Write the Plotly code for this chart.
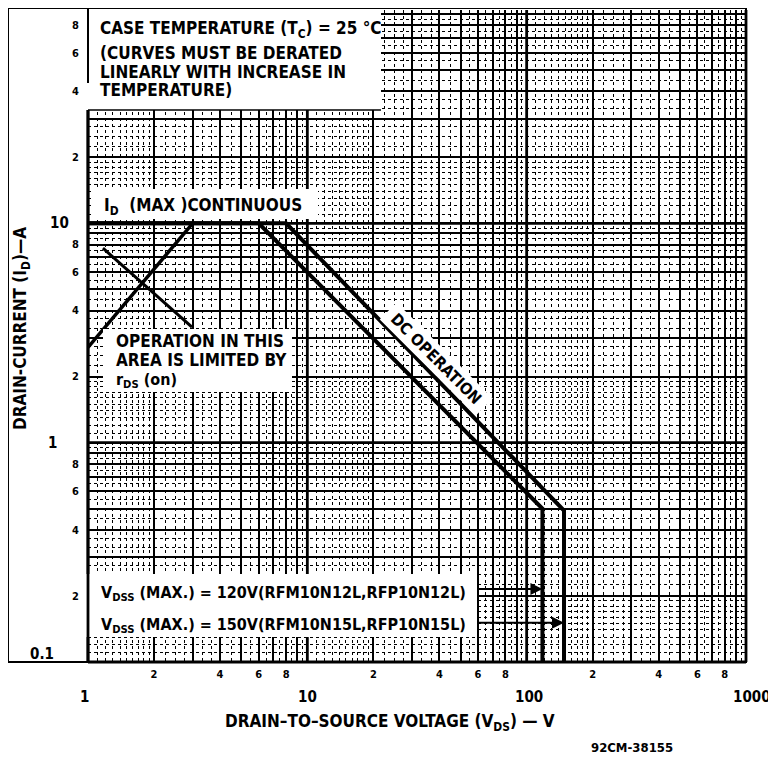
import plotly.graph_objects as go
import math

# ---------------- data ----------------
# RFM10N12L / RFP10N12L boundary (VDSS = 120 V)
vds_120 = [1.0, 6.0, 118.0, 118.0]
id_120 = [10.0, 10.0, 0.50, 0.10]
# RFM10N15L / RFP10N15L boundary (VDSS = 150 V)
vds_150 = [1.0, 8.0, 148.0, 148.0]
id_150 = [10.0, 10.0, 0.49, 0.10]
# rDS(on) limit line
vds_rds = [1.0, 3.0]
id_rds = [2.72, 10.0]
# leader line from the rDS(on) note
vds_leader = [1.17, 2.98]
id_leader = [7.7, 3.36]
# VDSS arrows (tip voltage, current level)
arrow_vds = [118.0, 148.0]
arrow_id = [0.215, 0.151]

x_small_digits = [2, 4, 6, 8]
x_decades = [1, 10, 100, 1000]
x_decade_labels = ["1", "10", "100", "1000"]
y_decades = [0.1, 1, 10]
y_decade_labels = ["0.1", "1", "10"]
dotted_steps = [1.1, 1.2, 1.3, 1.4, 1.5, 1.6, 1.7, 1.8, 1.9, 2.25, 2.5, 2.75,
                3.33, 3.67, 4.5, 5.5, 6.5, 7.5, 8.5, 9.5]

# ---------------- geometry ----------------
OFF = 8                      # page body margin of the browser
W, H = 776 - OFF, 759 - OFF
L, R, T, B = 88 - OFF, 30, 10 - OFF, 97
PW, PH = W - L - R, H - T - B
YMIN = -1.0
YMAX = YMIN + PH * 3.0 / PW

FONT = "DejaVu Sans Condensed, DejaVu Sans, sans-serif"


def px(X):
    return (X - OFF - L) / PW


def py(Y):
    return (T + PH - (Y - OFF)) / PH


def xr(v):
    return math.log10(v) / 3.0


def yr(v):
    return (math.log10(v) - YMIN) / (YMAX - YMIN)


fig = go.Figure()
line_style = dict(color="black", width=4)
fig.add_trace(go.Scatter(x=vds_120, y=id_120, mode="lines", line=line_style,
                         showlegend=False, hoverinfo="skip"))
fig.add_trace(go.Scatter(x=vds_150, y=id_150, mode="lines", line=line_style,
                         showlegend=False, hoverinfo="skip"))
fig.add_trace(go.Scatter(x=vds_rds, y=id_rds, mode="lines",
                         line=dict(color="black", width=3.5),
                         showlegend=False, hoverinfo="skip"))
fig.add_trace(go.Scatter(x=vds_leader, y=id_leader, mode="lines",
                         line=dict(color="black", width=3),
                         showlegend=False, hoverinfo="skip"))

# tick values: every 1..9 multiple
xt = [m * 10 ** d for d in range(0, 3) for m in range(1, 10)] + [1000]
xtt = [str(m) if m in x_small_digits else "" for d in range(0, 3) for m in range(1, 10)] + [""]
yt = [m * 10 ** d for d in range(-1, 2) for m in range(1, 10)]
ytt = [str(m) if m in x_small_digits else "" for d in range(-1, 2) for m in range(1, 10)]
x_minor = [s * 10 ** d for d in range(0, 3) for s in dotted_steps]
y_minor = [s * 10 ** d for d in range(-1, 2) for s in dotted_steps]

tickfont = dict(family=FONT, size=11, color="black", weight="bold")
fig.update_xaxes(type="log", range=[0, 3], tickmode="array", tickvals=xt, ticktext=xtt,
                 showgrid=True, gridcolor="black", gridwidth=1.7, zeroline=False,
                 showline=False, ticks="", ticklabelstandoff=4, tickfont=tickfont,
                 minor=dict(tickmode="array", tickvals=x_minor, showgrid=True,
                            gridcolor="black", gridwidth=1.2, griddash="dot", ticks=""))
fig.update_yaxes(type="log", range=[YMIN, YMAX], tickmode="array", tickvals=yt, ticktext=ytt,
                 showgrid=True, gridcolor="black", gridwidth=1.7, zeroline=False,
                 showline=False, ticks="", ticklabelstandoff=8, tickfont=tickfont,
                 minor=dict(tickmode="array", tickvals=y_minor, showgrid=True,
                            gridcolor="black", gridwidth=1.2, griddash="dot", ticks=""))

shapes = []
# heavy decade lines
for v in x_decades:
    shapes.append(dict(type="line", xref="paper", yref="paper", x0=xr(v), x1=xr(v), y0=0, y1=1,
                       line=dict(color="black", width=2.8), layer="above"))
for v in y_decades:
    shapes.append(dict(type="line", xref="paper", yref="paper", x0=0, x1=1, y0=yr(v), y1=yr(v),
                       line=dict(color="black", width=2.8), layer="above"))


def white_box(X0, Y0, X1, Y1):
    return dict(type="rect", xref="paper", yref="paper", x0=px(X0), x1=px(X1),
                y0=py(Y1), y1=py(Y0), fillcolor="white", line=dict(width=0), layer="above")


shapes.append(white_box(86, 9, 381, 110))     # temperature note area
shapes.append(white_box(92, 189, 318, 219))   # ID(max) label
shapes.append(white_box(103, 329, 292, 392))  # rDS(on) note
shapes.append(white_box(86, 574, 477, 637))   # VDSS note
# outer frame
shapes.append(dict(type="rect", xref="paper", yref="paper", x0=px(8), x1=1, y0=0, y1=py(8),
                   line=dict(color="black", width=2), fillcolor="rgba(0,0,0,0)", layer="above"))
shapes.append(dict(type="line", xref="paper", yref="paper", x0=0, x1=0, y0=py(83), y1=py(8),
                   line=dict(color="black", width=2), layer="above"))
shapes.append(dict(type="line", xref="paper", yref="paper", x0=0, x1=0, y0=0, y1=py(110),
                   line=dict(color="black", width=2.8), layer="above"))
shapes.append(dict(type="line", xref="paper", yref="paper", x0=0, x1=px(381), y0=py(110), y1=py(110),
                   line=dict(color="black", width=1.5), layer="above"))

annotations = []


def ann(text, X, Y, size, xanchor="left", yanchor="middle", angle=0, bg=None, weight="bold"):
    d = dict(text=text, xref="paper", yref="paper", x=px(X), y=py(Y), showarrow=False,
             xanchor=xanchor, yanchor=yanchor, textangle=angle,
             font=dict(family=FONT, size=size, color="black", weight=weight))
    if bg:
        d.update(bgcolor=bg, borderpad=2)
    return d


annotations += [
    ann("CASE TEMPERATURE (T<sub>C</sub>) = 25 °C", 98, 29, 17),
    ann("(CURVES MUST BE DERATED", 98, 53, 17),
    ann("LINEARLY WITH INCREASE IN", 98, 72, 17),
    ann("TEMPERATURE)", 98, 90, 17),
    ann("I<sub>D</sub>  (MAX )CONTINUOUS", 102, 206, 17),
    ann("OPERATION IN THIS", 114, 341, 17),
    ann("AREA IS LIMITED BY", 114, 360, 17),
    ann("r<sub>DS</sub> (on)", 114, 380, 16),
    ann("V<sub>DSS</sub> (MAX.) = 120V(RFM10N12L,RFP10N12L)", 99, 593, 16),
    ann("V<sub>DSS</sub> (MAX.) = 150V(RFM10N15L,RFP10N15L)", 99, 625, 16),
    ann(" DC OPERATION ", 437, 359, 16, xanchor="center", angle=45, bg="white"),
    ann("DRAIN-CURRENT (I<sub>D</sub>)—A", 22, 329, 17, xanchor="center", angle=-90),
    ann("DRAIN–TO–SOURCE VOLTAGE (V<sub>DS</sub>) — V", 390, 722, 17, xanchor="center"),
    ann("92CM-38155", 632, 748, 13, xanchor="center"),
]
# decade labels
for v, lab, X in zip(x_decades, x_decade_labels, [84, 308, 529, 752]):
    annotations.append(dict(text=lab, xref="x", yref="paper", x=math.log10(v), y=py(697),
                            xshift=X - OFF - (L + xr(v) * PW), showarrow=False, xanchor="center",
                            yanchor="middle",
                            font=dict(family=FONT, size=15, color="black", weight="bold")))
for v, lab, X in zip(y_decades, y_decade_labels, [42, 52, 59]):
    annotations.append(dict(text=lab, xref="paper", yref="y", x=px(X), y=math.log10(v),
                            yshift=(8 if v == 0.1 else 0), showarrow=False, xanchor="center",
                            yanchor="middle",
                            font=dict(family=FONT, size=15, color="black", weight="bold")))
# VDSS arrows
tail_x = px(477) * 3.0
for v, i in zip(arrow_vds, arrow_id):
    annotations.append(dict(x=math.log10(v), y=math.log10(i), ax=tail_x, ay=math.log10(i),
                            xref="x", yref="y", axref="x", ayref="y", showarrow=True,
                            arrowhead=2, arrowsize=1.2, arrowwidth=2, arrowcolor="black",
                            text=""))

fig.update_layout(
    width=W, height=H,
    margin=dict(l=L, r=R, t=T, b=B, pad=0),
    paper_bgcolor="white", plot_bgcolor="white",
    shapes=shapes, annotations=annotations,
    showlegend=False,
)
fig.write_html("out.html")
